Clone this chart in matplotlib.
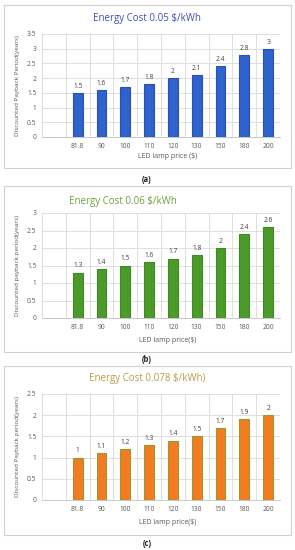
import matplotlib
matplotlib.use("Agg")
import matplotlib.pyplot as plt
from matplotlib.patches import Rectangle
import numpy as np

plt.rcParams['font.family'] = ['Open Sans', 'DejaVu Sans']

prices = ['81.8', '90', '100', '110', '120', '130', '150', '180', '200']
payback_005 = [1.5, 1.6, 1.7, 1.8, 2.0, 2.1, 2.4, 2.8, 3.0]
payback_006 = [1.3, 1.4, 1.5, 1.6, 1.7, 1.8, 2.0, 2.4, 2.6]
payback_0078 = [1.0, 1.1, 1.2, 1.3, 1.4, 1.5, 1.7, 1.9, 2.0]

titles = ['Energy Cost 0.05 $/kWh', 'Energy Cost 0.06 $/kWh', 'Energy Cost 0.078 $/kWh)']
ylabels = ['Discounted Payback Period(years)', 'Discounted payback period(years)',
           'Discounted Payback period(years)']
xlabels = ['LED lamp price ($)', 'LED lamp price($)', 'LED lamp price($)']
captions = ['(a)', '(b)', '(c)']
ymaxes = [3.5, 3.0, 2.5]
series = [payback_005, payback_006, payback_0078]
fills = ['#2E62CC', '#4C9A2A', '#F27C22']
edges = ['#2F4FB0', '#3E8A22', '#9C9830']
title_colors = ['#3F4FB8', '#6FA040', '#C09A45']

W, H = 295, 550
fig = plt.figure(figsize=(W / 100, H / 100), dpi=100)

def fx(px):
    return px / W

def fy(py):
    return 1 - py / H

# panel geometry in pixels: frame top, frame bottom, axes top, axes bottom, title y, xlabel y, caption y, title x
panels = [
    (5, 168, 34, 137, 19, 156, 179, 147),
    (186, 352, 213, 318, 202, 340, 359, 123),
    (366, 535, 394, 500, 379, 522, 543, 147),
]
ax_left, ax_right = 42, 280

for i, (ft, fb, at, ab, ty, xly, cy, tx) in enumerate(panels):
    fig.patches.append(Rectangle((fx(4), fy(fb)), fx(291) - fx(4), fy(ft) - fy(fb),
                                 transform=fig.transFigure, fill=False,
                                 edgecolor='#D0D0D0', linewidth=0.8))
    ax = fig.add_axes([fx(ax_left), fy(ab), fx(ax_right) - fx(ax_left), fy(at) - fy(ab)])
    vals = series[i]
    pos = np.arange(len(prices)) + 1
    ax.bar(pos, vals, width=0.42, color=fills[i], edgecolor=edges[i], linewidth=0.8, zorder=3)
    for p, v in zip(pos, vals):
        ax.text(p, v + ymaxes[i] * 0.03, f'{v:g}', ha='center', va='bottom',
                fontsize=4.8, color='#404040', zorder=4)
    ax.set_xlim(-0.5, len(prices) + 0.5)
    ax.set_ylim(0, ymaxes[i])
    ticks = np.arange(0, ymaxes[i] + 0.01, 0.5)
    ax.set_yticks(ticks)
    ax.set_yticklabels([f'{t:g}' for t in ticks])
    ax.set_xticks(pos)
    ax.set_xticklabels(prices)
    ax.set_xticks(np.arange(len(prices) + 2) - 0.5, minor=True)
    ax.grid(axis='y', which='major', color='#D9D9D9', linewidth=0.6, zorder=0)
    ax.grid(axis='x', which='minor', color='#D9D9D9', linewidth=0.6, zorder=0)
    ax.tick_params(axis='both', which='both', length=0, labelsize=4.8, labelcolor='#595959', pad=4)
    for s in ['top', 'right', 'left']:
        ax.spines[s].set_visible(False)
    ax.spines['bottom'].set_color('#BFBFBF')
    ax.spines['bottom'].set_linewidth(0.6)
    ax.set_facecolor('white')
    fig.text(fx(tx), fy(ty), titles[i], ha='center', va='center', fontsize=7, color=title_colors[i])
    fig.text(fx(18), fy((at + ab) / 2), ylabels[i], rotation=90, ha='center', va='center',
             fontsize=4.6, color='#595959')
    fig.text(fx(168), fy(xly), xlabels[i], ha='center', va='center', fontsize=5, color='#595959')
    fig.text(fx(147), fy(cy), captions[i], ha='center', va='center', fontsize=5.5,
             fontweight='bold', color='#202020')

fig.savefig('out.png', dpi=100)
